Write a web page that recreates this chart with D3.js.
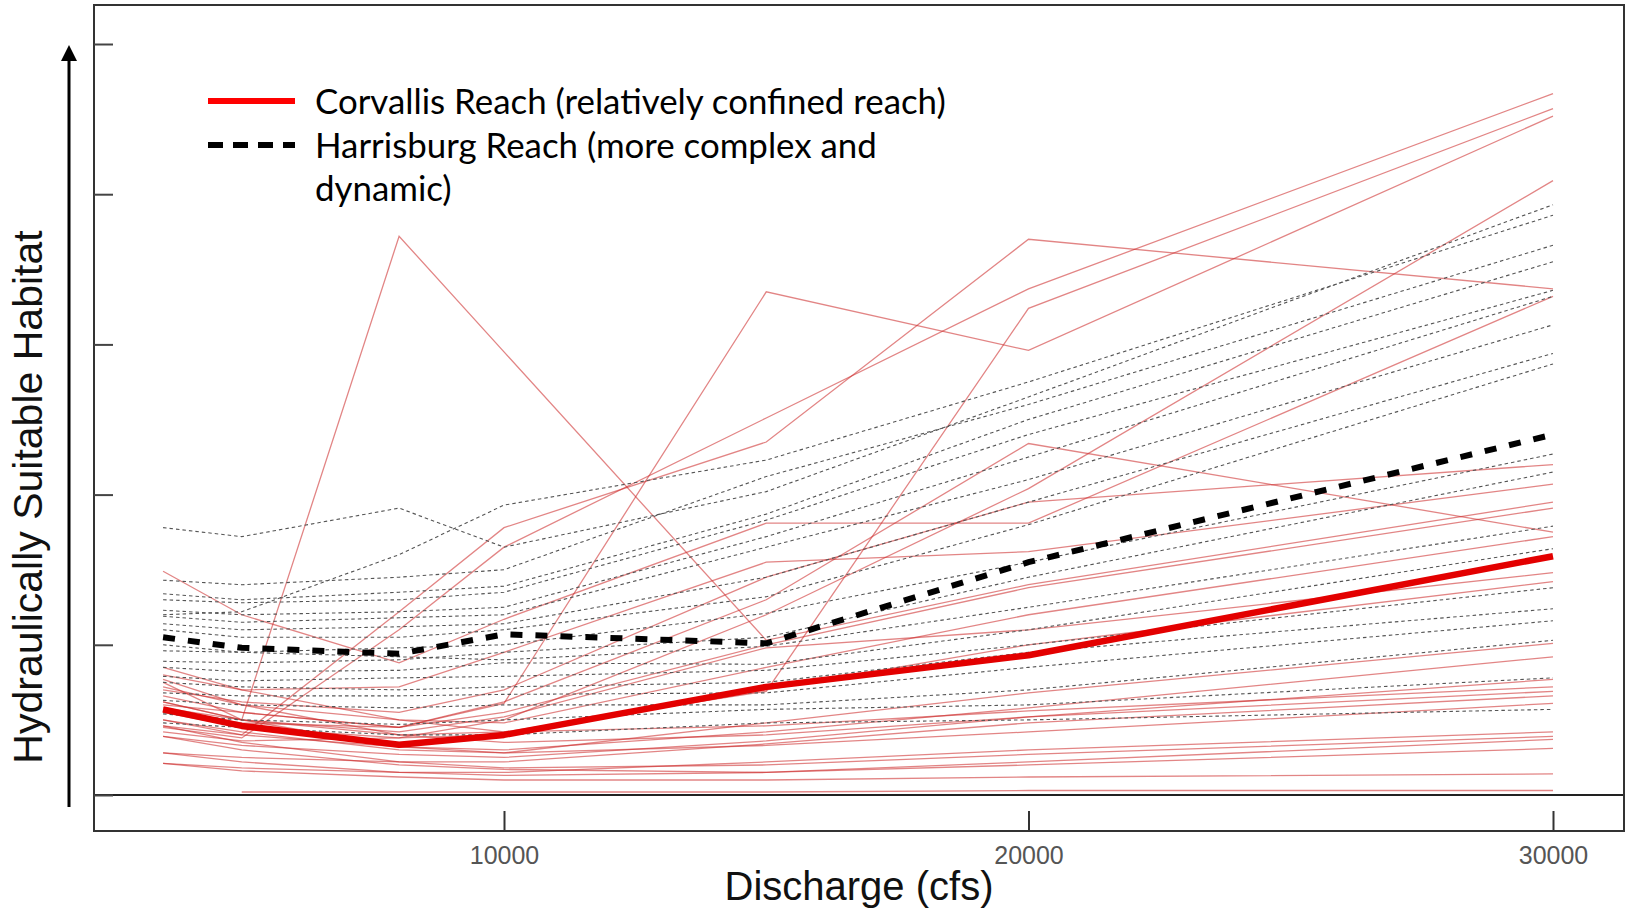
<!DOCTYPE html>
<html>
<head>
<meta charset="utf-8">
<script src="https://cdn.jsdelivr.net/npm/d3@7"></script>
<style>
  html, body { margin: 0; padding: 0; background: #fff; }
  svg { display: block; }
</style>
</head>
<body>
<svg id="chart" width="1633" height="914"></svg>
<script>
// Discharge values (cfs) at which habitat was modelled
const discharge = [3500, 5000, 8000, 10000, 15000, 20000, 30000];

// Reach-average curves
const corvallisMean  = [0.57, 0.46, 0.335, 0.40, 0.72, 0.93, 1.59];
const harrisburgMean = [1.05, 0.98, 0.94, 1.07, 1.01, 1.55, 2.40];

// Individual site curves, Corvallis reach (one row per site, aligned with discharge)
const corvallisSites = [
  [0.75, 0.50, 3.72, 2.95, 1.03, 1.40, 1.95],
  [0.60, 0.55, 0.45, 0.61, 3.35, 2.96, 4.52],
  [0.50, 0.40, 1.22, 1.78, 2.35, 3.70, 3.37],
  [0.62, 0.50, 0.40, 0.42, 0.69, 3.24, 4.57],
  [0.45, 0.38, 1.10, 1.65, 2.51, 3.37, 4.67],
  [0.42, 0.36, 0.38, 0.50, 1.20, 2.04, 4.09],
  [1.49, 1.20, 0.88, 1.17, 1.81, 1.81, 3.32],
  [0.70, 0.62, 0.55, 0.70, 1.45, 1.95, 2.20],
  [0.80, 0.70, 0.72, 0.95, 1.55, 1.62, 2.07],
  [0.55, 0.48, 0.45, 0.62, 1.30, 2.34, 1.75],
  [0.66, 0.55, 0.45, 0.55, 1.00, 1.38, 1.91],
  [0.72, 0.60, 0.50, 0.48, 0.85, 1.20, 1.72],
  [0.58, 0.50, 0.42, 0.52, 0.98, 1.10, 1.48],
  [0.55, 0.45, 0.38, 0.40, 0.70, 1.00, 1.42],
  [0.50, 0.42, 0.30, 0.28, 0.48, 0.68, 1.01],
  [0.46, 0.40, 0.32, 0.30, 0.42, 0.58, 0.92],
  [0.39, 0.33, 0.27, 0.25, 0.36, 0.52, 0.77],
  [0.85, 0.70, 0.50, 0.42, 0.46, 0.56, 0.72],
  [0.77, 0.60, 0.40, 0.35, 0.40, 0.52, 0.69],
  [0.28, 0.25, 0.22, 0.22, 0.34, 0.48, 0.66],
  [0.62, 0.50, 0.32, 0.28, 0.33, 0.42, 0.61],
  [0.21, 0.18, 0.15, 0.15, 0.22, 0.30, 0.42],
  [0.46, 0.35, 0.22, 0.18, 0.20, 0.27, 0.39],
  [0.39, 0.30, 0.20, 0.17, 0.15, 0.22, 0.37],
  [0.28, 0.22, 0.15, 0.13, 0.15, 0.20, 0.31],
  [0.21, 0.16, 0.12, 0.10, 0.10, 0.12, 0.14],
  [null, 0.02, 0.02, 0.02, 0.02, 0.03, 0.03]
];

// Individual site curves, Harrisburg reach
const harrisburgSites = [
  [1.78, 1.72, 1.91, 1.65, 2.02, 2.65, 3.93],
  [1.20, 1.22, 1.60, 1.93, 2.23, 2.75, 3.86],
  [1.43, 1.40, 1.45, 1.50, 2.12, 2.60, 3.66],
  [1.34, 1.30, 1.35, 1.39, 1.87, 2.50, 3.55],
  [1.30, 1.28, 1.30, 1.35, 1.83, 2.40, 3.36],
  [1.23, 1.20, 1.22, 1.25, 1.72, 2.25, 3.32],
  [1.19, 1.15, 1.18, 1.20, 1.65, 2.10, 3.13],
  [1.14, 1.10, 1.12, 1.14, 1.45, 1.95, 2.94],
  [1.10, 1.05, 1.05, 1.10, 1.32, 1.80, 2.87],
  [0.96, 0.95, 0.98, 1.00, 1.21, 1.55, 2.27],
  [0.89, 0.88, 0.90, 0.95, 1.05, 1.45, 2.15],
  [1.00, 0.95, 0.92, 0.90, 0.99, 1.25, 1.79],
  [0.85, 0.82, 0.83, 0.88, 0.87, 1.10, 1.64],
  [0.79, 0.76, 0.78, 0.79, 0.83, 1.00, 1.38],
  [0.75, 0.72, 0.70, 0.72, 0.75, 0.95, 1.24],
  [0.68, 0.66, 0.66, 0.67, 0.68, 0.85, 1.16],
  [0.63, 0.60, 0.58, 0.60, 0.60, 0.70, 1.03],
  [0.54, 0.50, 0.47, 0.50, 0.57, 0.60, 0.78],
  [0.48, 0.45, 0.40, 0.40, 0.48, 0.50, 0.57]
];

const xTickValues = [10000, 20000, 30000];
const yTickValues = [0, 1, 2, 3, 4, 5];
const legendLabels = [
  "Corvallis Reach (relatively confined reach)",
  "Harrisburg Reach (more complex and",
  "dynamic)"
];
const xTitle = "Discharge (cfs)";
const yTitle = "Hydraulically Suitable Habitat";

// ---- layout ----
const svg = d3.select("#chart");
const frame = { left: 94, right: 1624, top: 5, bottom: 831 };
const x = d3.scaleLinear().domain([10000, 30000]).range([504, 1553]);
const y = d3.scaleLinear().domain([0, 5]).range([795, 44]);

const toPoints = vals => discharge.map((d, i) => [d, vals[i]]);
const line = d3.line()
  .defined(p => p[1] != null)
  .x(p => x(p[0]))
  .y(p => y(p[1]));

// site curves
const plot = svg.append("g");
plot.append("g").selectAll("path")
  .data(corvallisSites)
  .join("path")
  .attr("d", v => line(toPoints(v)))
  .attr("fill", "none")
  .attr("stroke", "rgba(205,45,45,0.58)")
  .attr("stroke-width", 1.3);

plot.append("g").selectAll("path")
  .data(harrisburgSites)
  .join("path")
  .attr("d", v => line(toPoints(v)))
  .attr("fill", "none")
  .attr("stroke", "#555")
  .attr("stroke-width", 1.1)
  .attr("stroke-dasharray", "3.5,3");

// reach averages
plot.append("path")
  .attr("d", line(toPoints(corvallisMean)))
  .attr("fill", "none")
  .attr("stroke", "#e30000")
  .attr("stroke-width", 6.5)
  .attr("stroke-linejoin", "round");

plot.append("path")
  .attr("d", line(toPoints(harrisburgMean)))
  .attr("fill", "none")
  .attr("stroke", "#000")
  .attr("stroke-width", 6)
  .attr("stroke-dasharray", "12,13");

// zero line across the panel
svg.append("line")
  .attr("x1", frame.left).attr("x2", frame.right)
  .attr("y1", y(0)).attr("y2", y(0))
  .attr("stroke", "#222").attr("stroke-width", 2);

// panel frame
svg.append("rect")
  .attr("x", frame.left).attr("y", frame.top)
  .attr("width", frame.right - frame.left)
  .attr("height", frame.bottom - frame.top)
  .attr("fill", "none")
  .attr("stroke", "#333")
  .attr("stroke-width", 2);

// y ticks (inward, unlabeled)
const yAxis = svg.append("g")
  .attr("transform", `translate(${frame.left},0)`)
  .call(d3.axisLeft(y).tickValues(yTickValues).tickSize(-19).tickFormat(""));
yAxis.select(".domain").remove();
yAxis.selectAll(".tick line").attr("stroke", "#444").attr("stroke-width", 2);

// x ticks (inward) with labels below the frame
const xAxis = svg.append("g")
  .attr("transform", `translate(0,${frame.bottom})`)
  .call(d3.axisBottom(x).tickValues(xTickValues).tickSize(-20).tickPadding(15).tickFormat(d3.format("d")));
xAxis.select(".domain").remove();
xAxis.selectAll(".tick line").attr("stroke", "#333").attr("stroke-width", 2);
xAxis.selectAll(".tick text")
  .attr("font-family", "'Liberation Sans', Arial, sans-serif")
  .attr("font-size", 25)
  .attr("fill", "#555");

// axis titles
svg.append("text")
  .attr("x", (frame.left + frame.right) / 2)
  .attr("y", 900)
  .attr("text-anchor", "middle")
  .attr("font-family", "'Liberation Sans', Arial, sans-serif")
  .attr("font-size", 40)
  .attr("fill", "#111")
  .text(xTitle);

svg.append("text")
  .attr("transform", "translate(42,497) rotate(-90)")
  .attr("text-anchor", "middle")
  .attr("font-family", "'Liberation Sans', Arial, sans-serif")
  .attr("font-size", 41)
  .attr("fill", "#111")
  .text(yTitle);

// upward arrow beside the y axis
svg.append("line")
  .attr("x1", 69).attr("x2", 69)
  .attr("y1", 807).attr("y2", 58)
  .attr("stroke", "#000").attr("stroke-width", 3);
svg.append("path")
  .attr("d", "M69,45 L61,61 L77,61 Z")
  .attr("fill", "#000");

// legend
const legend = svg.append("g");
legend.append("line")
  .attr("x1", 208).attr("x2", 295).attr("y1", 101).attr("y2", 101)
  .attr("stroke", "#ff0000").attr("stroke-width", 6);
legend.append("line")
  .attr("x1", 208).attr("x2", 295).attr("y1", 145).attr("y2", 145)
  .attr("stroke", "#000").attr("stroke-width", 6)
  .attr("stroke-dasharray", "15,10");

const legendText = legend.selectAll("text")
  .data(legendLabels)
  .join("text")
  .attr("x", 315)
  .attr("y", (d, i) => 114 + i * 43.5)
  .attr("font-family", "Lato, 'Open Sans', sans-serif")
  .attr("font-size", 34)
  .attr("fill", "#000")
  .text(d => d);

// size the legend font so the first entry spans its intended width
const firstLen = legendText.node().getComputedTextLength();
legendText.attr("font-size", 34 * 631 / firstLen);
</script>
</body>
</html>
